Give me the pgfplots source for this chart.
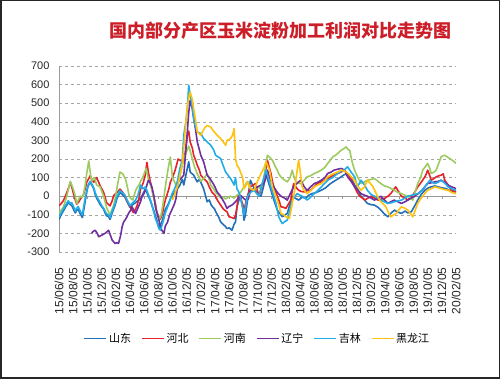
\documentclass[border=0pt]{standalone}
\usepackage{fontspec}
\setmainfont{Liberation Sans}
\newfontfamily\cjk{Noto Sans CJK SC}
\usepackage{pgfplots}
\pgfplotsset{compat=1.18}
\definecolor{sd}{HTML}{2370B8}
\definecolor{hb}{HTML}{E5232B}
\definecolor{hn}{HTML}{9DCB5F}
\definecolor{ln}{HTML}{7030A0}
\definecolor{jl}{HTML}{22ADE6}
\definecolor{hlj}{HTML}{FFC20E}
\definecolor{ttl}{HTML}{CC1E28}
\begin{document}
\begin{tikzpicture}
\path[use as bounding box] (0,0) rectangle (500pt,379pt);
\draw[line width=1.5pt, black!85] (0.75pt,0.75pt) rectangle (499.25pt,378.25pt);
\node[text=ttl, font=\cjk\bfseries\fontsize{18}{20}\selectfont] at (280pt,348pt) {国内部分产区玉米淀粉加工利润对比走势图};
\begin{axis}[
 at={(59pt,127pt)}, anchor=south west, scale only axis, width=397pt, height=186pt,
 xmin=0, xmax=56, ymin=-300, ymax=700,
 axis lines*=left, x axis line style={draw=none}, y axis line style={gray!80, line width=0.6pt},
 ytick={-300,-200,...,700}, yticklabels={-300,-200,-100,0,100,200,300,400,500,600,700},
 xtick={0,2,...,56},
 xticklabels={15/06/05,15/08/05,15/10/05,15/12/05,16/02/05,16/04/05,16/06/05,16/08/05,16/10/05,16/12/05,17/02/05,17/04/05,17/06/05,17/08/05,17/10/05,17/12/05,18/02/05,18/04/05,18/06/05,18/08/05,18/10/05,18/12/05,19/02/05,19/04/05,19/06/05,19/08/05,19/10/05,19/12/05,20/02/05},
 major tick length=0pt,
 ymajorgrids, major grid style={dashed, gray!70, line width=0.5pt},
 tick label style={font=\fontsize{11}{13}\selectfont, text=black!85},
 xticklabel style={font=\fontsize{12}{14}\selectfont, yshift=-12pt, rotate=90, anchor=east},
 yticklabel style={xshift=-6pt},
 legend columns=6,
 legend style={at={(0.5,-0.465)}, anchor=center, draw=none, fill=none, font=\cjk\fontsize{11}{13}\selectfont, /tikz/every even column/.append style={column sep=8pt}},
 legend image code/.code={\draw[#1, line width=1.4pt] (0pt,0pt) -- (22pt,0pt);},
 every axis plot/.append style={line width=1.6pt, line join=round},
]
\draw[gray!80, line width=0.6pt] (axis cs:0,0) -- (axis cs:56,0);
\pgfplotsinvokeforeach{0,2,...,56}{\draw[gray!80, line width=0.6pt] (axis cs:#1,0) -- ++(0pt,-3pt);}

\addplot[sd] coordinates {(0,-125)(0.3,-100)(0.6,-80)(0.9,-60)(1.3,-35)(1.6,-45)(1.8,-50)(2.1,-75)(2.3,-90)(2.5,-75)(2.7,-70)(3.0,-95)(3.3,-115)(3.6,-50)(3.9,20)(4.1,55)(4.4,75)(4.7,55)(4.9,40)(5.1,10)(5.3,-10)(5.6,-30)(5.8,-45)(6.1,-60)(6.3,-70)(6.5,-90)(6.7,-105)(7.0,-110)(7.2,-125)(7.5,-90)(7.9,-50)(8.2,-10)(8.6,20)(8.9,10)(9.3,-5)(9.6,-30)(10,-60)(10.4,-45)(10.8,-35)(11.1,-25)(11.5,-15)(11.8,10)(12.2,40)(12.4,20)(12.6,0)(12.9,-25)(13.1,-50)(13.4,-80)(13.6,-105)(13.9,-140)(14.1,-170)(14.3,-155)(14.5,-140)(14.8,-100)(15,-70)(15.3,-50)(15.5,-35)(15.7,-15)(15.9,0)(16.3,20)(16.7,40)(17,55)(17.4,90)(17.6,60)(18.1,150)(18.3,185)(18.5,130)(18.8,120)(19.0,113)(19.5,77)(19.8,90)(20.0,75)(20.4,40)(20.9,-30)(21.2,-20)(21.5,-50)(21.9,-66)(22.2,-90)(22.5,-110)(22.8,-138)(23.1,-150)(23.4,-160)(23.7,-174)(24.0,-170)(24.4,-183)(24.7,-150)(24.9,-138)(25.1,-60)(25.3,-30)(25.6,0)(25.9,-60)(26.1,-129)(26.3,-100)(26.6,-21)(27.0,86)(27.3,60)(27.7,32)(28.1,10)(28.5,0)(28.9,60)(29.2,122)(29.5,80)(29.9,32)(30.3,-20)(30.8,-75)(31.1,-90)(31.5,-111)(31.9,-100)(32.2,-93)(32.6,-40)(32.9,0)(33.3,-10)(33.8,-21)(34.3,-5)(34.8,-12)(35.2,5)(35.7,14)(36.3,20)(37.0,32)(37.6,45)(38.3,68)(39.0,85)(39.8,104)(40.2,115)(40.7,122)(41.2,100)(41.7,60)(42.2,32)(42.6,0)(43.1,-20)(43.5,-39)(44.0,-45)(44.5,-48)(45.0,-60)(45.4,-75)(45.9,-95)(46.4,-111)(46.8,-93)(47.3,-75)(47.8,-85)(48.3,-93)(48.8,-80)(49.2,-90)(49.7,-84)(50.2,-50)(50.6,-21)(51.1,10)(51.6,32)(52.1,45)(52.5,50)(53.0,55)(53.5,50)(54.0,45)(54.6,41)(55.1,30)(55.6,23)(56,23)};
\addlegendentry{山东}

\addplot[hb] coordinates {(0,-52)(0.3,-40)(0.6,-25)(0.9,0)(1.1,20)(1.4,50)(1.6,74)(1.8,50)(2.0,20)(2.3,-20)(2.5,-43)(2.8,-30)(3.0,-16)(3.2,-5)(3.4,2)(3.7,40)(3.9,74)(4.2,95)(4.4,110)(4.7,85)(4.9,74)(5.1,90)(5.3,100)(5.6,75)(5.8,56)(6.1,35)(6.3,20)(6.5,-5)(6.7,-34)(7.0,-45)(7.2,-52)(7.5,-25)(7.7,2)(8.0,15)(8.2,20)(8.6,38)(8.9,25)(9.3,2)(9.6,-25)(10,-52)(10.2,-70)(10.5,-88)(10.8,-70)(11,-52)(11.3,-10)(11.5,38)(11.7,55)(11.9,74)(12.2,120)(12.4,182)(12.6,130)(12.9,74)(13.1,40)(13.3,2)(13.6,-40)(13.8,-88)(14.1,-110)(14.3,-124)(14.6,-90)(14.8,-52)(15.0,-20)(15.2,2)(15.5,40)(15.7,74)(16.0,100)(16.3,130)(16.6,170)(16.8,200)(17.2,190)(17.6,185)(17.9,260)(18.1,328)(18.3,350)(18.5,292)(18.8,260)(19.0,220)(19.3,190)(19.5,167)(19.8,140)(20.0,113)(20.4,95)(20.9,77)(21.2,50)(21.6,20)(22.0,5)(22.4,-25)(22.8,-48)(23.2,-70)(23.7,-84)(24.0,-111)(24.4,-115)(24.7,-120)(24.9,-102)(25.1,-60)(25.3,5)(25.6,-13)(25.9,-40)(26.1,-75)(26.5,-10)(27.0,50)(27.4,60)(27.7,68)(28.0,30)(28.2,0)(28.6,50)(28.9,86)(29.2,150)(29.4,194)(29.7,150)(29.9,122)(30.1,80)(30.3,50)(30.6,20)(30.8,0)(31.1,-30)(31.3,-57)(31.7,-60)(32.0,-66)(32.4,-40)(32.7,-21)(32.9,30)(33.1,68)(33.5,45)(33.8,32)(34.2,25)(34.6,23)(35.0,30)(35.5,32)(36.0,50)(36.4,68)(37.0,78)(37.4,86)(37.9,95)(38.3,104)(38.8,115)(39.3,122)(39.8,130)(40.2,140)(40.7,122)(41.2,90)(41.7,50)(42.0,25)(42.4,0)(42.8,-10)(43.1,-21)(43.6,-10)(44.0,0)(44.5,-10)(45.0,-21)(45.5,-15)(45.9,-12)(46.4,0)(46.8,14)(47.2,35)(47.5,50)(47.9,25)(48.3,0)(48.8,-10)(49.2,-21)(49.6,-5)(49.9,5)(50.3,30)(50.6,50)(51.0,70)(51.3,86)(51.7,110)(52.0,140)(52.3,110)(52.5,86)(52.9,95)(53.2,104)(53.6,110)(53.9,113)(54.2,120)(54.4,86)(54.9,60)(55.3,32)(55.7,28)(56,23)};
\addlegendentry{河北}

\addplot[hn] coordinates {(0,-90)(0.3,-75)(0.6,-60)(0.9,-25)(1.1,0)(1.4,50)(1.6,80)(1.8,60)(2.0,40)(2.3,0)(2.5,-40)(2.8,-15)(3.0,0)(3.2,-5)(3.4,0)(3.7,60)(3.9,120)(4.2,190)(4.4,130)(4.6,80)(4.8,95)(5.0,100)(5.3,60)(5.6,55)(5.8,50)(6.1,20)(6.3,0)(6.5,-30)(6.7,-60)(7.0,-85)(7.2,-100)(7.5,-70)(7.7,-50)(8.0,0)(8.2,50)(8.4,90)(8.6,130)(8.8,125)(9.0,120)(9.4,90)(9.7,40)(9.9,0)(10.2,-15)(10.4,-20)(10.8,30)(11.0,45)(11.3,60)(11.5,80)(11.8,100)(12.0,120)(12.3,150)(12.5,110)(12.7,80)(13.0,50)(13.2,20)(13.5,-30)(13.7,-80)(14.0,-110)(14.1,-130)(14.4,-100)(14.6,-60)(14.8,-5)(15.0,50)(15.2,100)(15.4,150)(15.7,210)(15.9,140)(16.0,100)(16.3,77)(16.5,60)(16.8,80)(17.0,100)(17.3,150)(17.6,200)(17.9,230)(18.1,250)(18.3,270)(18.6,230)(18.8,200)(19.1,160)(19.5,120)(19.8,100)(20.0,80)(20.3,90)(20.5,100)(20.9,120)(21.2,90)(21.4,60)(21.8,40)(22.1,20)(22.5,5)(22.8,-10)(23.2,-5)(23.5,-15)(23.9,-5)(24.2,0)(24.7,-10)(25.1,5)(25.6,20)(26.1,50)(26.6,80)(27.0,40)(27.5,30)(28.0,50)(28.5,40)(28.9,100)(29.2,180)(29.4,220)(29.7,210)(30.1,194)(30.5,160)(30.8,140)(31.0,120)(31.3,104)(31.7,90)(32.2,77)(32.6,100)(32.9,140)(33.1,110)(33.4,77)(33.8,70)(34.1,68)(34.6,86)(35.0,104)(35.5,110)(36.0,122)(36.5,130)(37.0,140)(37.5,155)(37.9,176)(38.3,195)(38.6,211)(39.0,220)(39.3,229)(39.8,247)(40.2,256)(40.5,265)(40.8,250)(41.0,247)(41.2,210)(41.4,176)(41.7,140)(41.9,122)(42.3,90)(42.6,68)(43.0,75)(43.5,86)(44.0,90)(44.5,95)(45.0,80)(45.4,68)(45.9,55)(46.4,50)(46.9,40)(47.3,32)(47.8,20)(48.3,14)(48.8,5)(49.2,0)(49.6,-10)(49.9,-21)(50.2,20)(50.6,68)(51.0,100)(51.3,140)(51.7,160)(52.0,176)(52.3,150)(52.5,122)(52.9,130)(53.2,140)(53.6,180)(53.9,211)(54.2,218)(54.4,220)(54.8,210)(55.1,203)(55.6,190)(56,176)};
\addlegendentry{河南}

\addplot[ln] coordinates {(4.6,-200)(4.8,-190)(5.1,-183)(5.4,-200)(5.6,-218)(6.0,-210)(6.5,-200)(7.0,-183)(7.3,-215)(7.5,-236)(7.9,-254)(8.2,-250)(8.4,-254)(8.7,-210)(8.9,-165)(9.1,-140)(9.3,-129)(9.6,-110)(9.8,-93)(10.1,-75)(10.3,-57)(10.6,-80)(10.8,-93)(11.0,-75)(11.2,-57)(11.5,-30)(11.7,-4)(12.0,15)(12.2,32)(12.4,60)(12.6,86)(12.9,70)(13.1,50)(13.4,0)(13.6,-57)(13.9,-100)(14.1,-129)(14.3,-160)(14.5,-183)(14.8,-200)(15.0,-160)(15.3,-140)(15.6,-100)(16.0,-66)(16.3,-40)(16.5,-13)(16.8,77)(17.2,95)(17.6,113)(17.9,250)(18.1,346)(18.3,450)(18.5,516)(18.8,470)(19.0,418)(19.3,350)(19.5,292)(19.8,250)(20.0,220)(20.4,185)(20.9,113)(21.3,95)(21.6,77)(22.0,50)(22.3,23)(22.7,5)(23.0,-13)(23.4,-40)(23.7,-66)(24.0,-55)(24.4,-48)(24.9,-30)(25.3,-10)(25.6,5)(26.0,-10)(26.3,-20)(26.7,-15)(27.0,32)(27.5,40)(28.0,50)(28.5,60)(28.9,68)(29.2,100)(29.4,140)(29.8,90)(30.3,50)(30.8,20)(31.3,0)(31.8,-10)(32.2,-21)(32.7,20)(33.1,50)(33.6,70)(34.1,86)(34.6,50)(35.0,32)(35.5,50)(36.0,68)(36.5,75)(37.0,86)(37.5,100)(37.9,122)(38.4,130)(38.8,140)(39.3,145)(39.8,149)(40.3,140)(40.7,104)(41.2,80)(41.7,50)(42.2,30)(42.6,14)(43.1,5)(43.5,0)(44.0,-10)(44.5,-21)(45.0,-10)(45.4,0)(45.9,-20)(46.4,-39)(46.8,-30)(47.3,-21)(47.8,-30)(48.3,-39)(48.8,-30)(49.2,-21)(49.7,-10)(50.2,0)(50.7,15)(51.2,32)(51.6,50)(52.0,68)(52.5,72)(53.0,77)(53.5,80)(53.9,86)(54.4,75)(54.9,59)(55.4,50)(56,41)};
\addlegendentry{辽宁}

\addplot[jl] coordinates {(0,-110)(0.3,-90)(0.6,-70)(0.9,-50)(1.3,-25)(1.6,-40)(1.8,-35)(2.1,-60)(2.3,-80)(2.5,-65)(2.7,-55)(3.0,-80)(3.3,-100)(3.6,-30)(3.9,30)(4.1,60)(4.4,80)(4.7,60)(4.9,45)(5.1,20)(5.3,0)(5.6,-20)(5.8,-35)(6.1,-55)(6.3,-65)(6.5,-80)(6.7,-95)(7.0,-100)(7.2,-115)(7.5,-80)(7.9,-40)(8.2,0)(8.6,30)(8.9,20)(9.3,5)(9.6,-20)(10,-50)(10.4,-35)(10.8,-20)(11.1,0)(11.5,60)(11.8,40)(12.2,50)(12.4,30)(12.6,10)(12.9,-20)(13.1,-45)(13.4,-90)(13.6,-120)(13.9,-150)(14.1,-175)(14.3,-183)(14.5,-160)(14.8,-120)(15,-90)(15.3,-60)(15.5,-40)(15.7,-20)(15.9,10)(16.3,40)(16.7,80)(17.0,140)(17.4,200)(17.6,330)(17.9,400)(18.1,470)(18.3,597)(18.5,540)(18.7,507)(19.0,418)(19.2,380)(19.5,346)(20.0,337)(20.4,310)(20.9,292)(21.4,274)(21.8,250)(22.1,220)(22.5,210)(22.8,202)(23.2,160)(23.5,130)(23.9,110)(24.2,95)(24.5,75)(24.7,60)(24.9,100)(25.1,40)(25.4,20)(25.6,-10)(25.9,-60)(26.1,-100)(26.3,-60)(26.6,0)(27.0,20)(27.5,32)(28.2,0)(28.6,60)(29.2,140)(29.5,100)(29.9,50)(30.3,0)(30.6,-39)(31.0,-111)(31.3,-135)(31.5,-147)(31.9,-135)(32.2,-129)(32.6,-70)(32.9,-21)(33.3,0)(33.6,14)(34.0,5)(34.3,0)(34.7,-10)(35.0,-21)(35.5,-5)(36.0,14)(36.5,30)(37.0,50)(37.5,70)(37.9,86)(38.6,100)(39.3,122)(39.8,135)(40.2,140)(40.7,158)(41.2,130)(41.7,104)(42.1,50)(42.6,86)(43.1,60)(43.5,32)(44.0,10)(44.5,0)(45.0,-10)(45.4,-21)(45.9,-30)(46.4,-39)(46.9,-35)(47.3,-30)(47.8,-25)(48.3,-21)(48.8,-10)(49.2,0)(49.7,5)(50.2,10)(50.7,14)(51.2,30)(51.6,50)(52.0,70)(52.3,86)(52.6,75)(53.0,68)(53.5,75)(53.9,86)(54.4,70)(54.9,50)(55.4,40)(56,32)};
\addlegendentry{吉林}

\addplot[hlj] coordinates {(16.0,-20)(16.3,10)(16.7,50)(17.0,100)(17.4,180)(17.6,260)(17.9,400)(18.1,480)(18.3,530)(18.5,560)(18.8,520)(19.0,470)(19.3,400)(19.5,346)(19.8,335)(20.0,328)(20.3,350)(20.6,370)(20.9,380)(21.2,375)(21.4,372)(21.8,350)(22.1,337)(22.5,320)(22.8,310)(23.2,290)(23.5,274)(23.7,300)(24.0,305)(24.2,310)(24.5,330)(24.7,364)(24.9,202)(25.1,167)(25.4,150)(25.6,130)(25.9,100)(26.1,40)(26.4,60)(26.6,77)(27.0,40)(27.5,32)(28.0,80)(28.5,122)(28.9,150)(29.2,185)(29.5,160)(29.7,140)(30.1,50)(30.5,10)(30.8,-21)(31.1,-60)(31.3,-93)(31.7,-100)(32.0,-111)(32.3,-115)(32.5,-120)(32.7,-80)(32.9,-39)(33.2,20)(33.4,86)(33.6,140)(33.8,194)(34.0,140)(34.3,50)(34.6,30)(35.0,14)(35.5,30)(36.0,50)(36.5,60)(37.0,68)(37.5,85)(37.9,104)(38.4,115)(38.8,122)(39.3,130)(39.8,140)(40.3,135)(40.8,122)(41.3,100)(41.7,86)(42.2,50)(42.6,32)(43.1,50)(43.5,86)(43.9,70)(44.3,50)(44.8,10)(45.2,-21)(45.7,-40)(46.1,-57)(46.5,-90)(46.8,-111)(47.2,-100)(47.6,-93)(48.0,-70)(48.3,-57)(48.8,-65)(49.2,-75)(49.6,-95)(49.9,-111)(50.3,-70)(50.6,-39)(51.0,-15)(51.3,0)(51.7,20)(52.0,32)(52.5,40)(53.0,50)(53.5,45)(53.9,41)(54.4,35)(54.9,32)(55.4,20)(56,14)};
\addlegendentry{黑龙江}
\end{axis}
\end{tikzpicture}
\end{document}
